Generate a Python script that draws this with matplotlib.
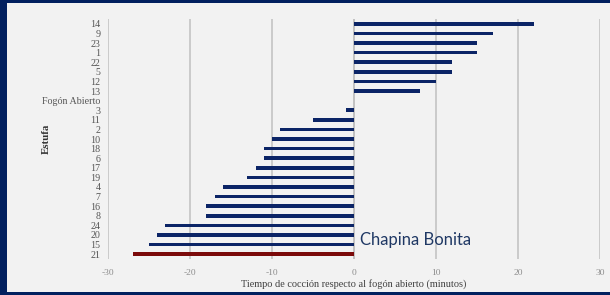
import matplotlib
matplotlib.use("Agg")
import matplotlib.pyplot as plt
from matplotlib.patches import Rectangle

# stoves, top to bottom as shown
estufas = ["14", "9", "23", "1", "22", "5", "12", "13", "Fogón Abierto", "3",
           "11", "2", "10", "18", "6", "17", "19", "4", "7", "16", "8", "24",
           "20", "15", "21"]
minutos = [22, 17, 15, 15, 12, 12, 10, 8, 0, -1,
           -5, -9, -10, -11, -11, -12, -13, -16, -17, -18, -18, -23,
           -24, -25, -27]
destacada = "21"
xticks = [-30, -20, -10, 0, 10, 20, 30]

navy = "#0b2466"
red = "#7b0a0a"

fig = plt.figure(figsize=(6.1, 2.95), dpi=100)
fig.patch.set_facecolor("#02205f")
fig.patches.append(Rectangle((7 / 610, 3.5 / 295), 1, 288.5 / 295,
                             transform=fig.transFigure, facecolor="#f2f2f2",
                             edgecolor="none", zorder=-1))

ax = fig.add_axes([108 / 610, 1 - 259 / 295, 492 / 610, 240 / 295])
ax.set_zorder(2)
ax.set_facecolor("none")

pos = list(range(len(estufas)))[::-1]
colores = [red if e == destacada else navy for e in estufas]
ax.barh(pos, minutos, height=0.36, color=colores, zorder=3)

ax.set_xlim(-30, 30)
ax.set_ylim(-0.5, len(estufas) - 0.5)
ax.set_xticks(xticks)
ax.set_xticklabels([str(t) for t in xticks], fontsize=6.8, color="#8c8c8c",
                   family="Liberation Serif")
ax.set_yticks(pos)
ax.set_yticklabels(estufas, fontsize=7.2, color="#555555",
                   family="Liberation Serif")
ax.tick_params(length=0)
ax.tick_params(axis="y", pad=5.5)
ax.tick_params(axis="x", pad=7)
ax.grid(axis="x", color="#c0c0c0", linewidth=1.1, zorder=1)
ax.axvline(0, color="#c0c0c0", linewidth=1.1, zorder=1)
for s in ax.spines.values():
    s.set_visible(False)

ax.set_xlabel("Tiempo de cocción respecto al fogón abierto (minutos)",
              fontsize=7.4, color="#404040", family="Liberation Serif",
              labelpad=1.5)
fig.text(46 / 610, 1 - 139 / 295, "Estufa", rotation=90, fontsize=7.8,
         fontweight="bold", color="#333333", family="Liberation Serif",
         ha="center", va="center", zorder=3)

ax.text(0.75, 1.45, "Chapina Bonita", fontsize=12, color="#1f3864",
        family="Lato", ha="left", va="center", zorder=4)

fig.savefig("out.png", dpi=100, facecolor=fig.get_facecolor())
